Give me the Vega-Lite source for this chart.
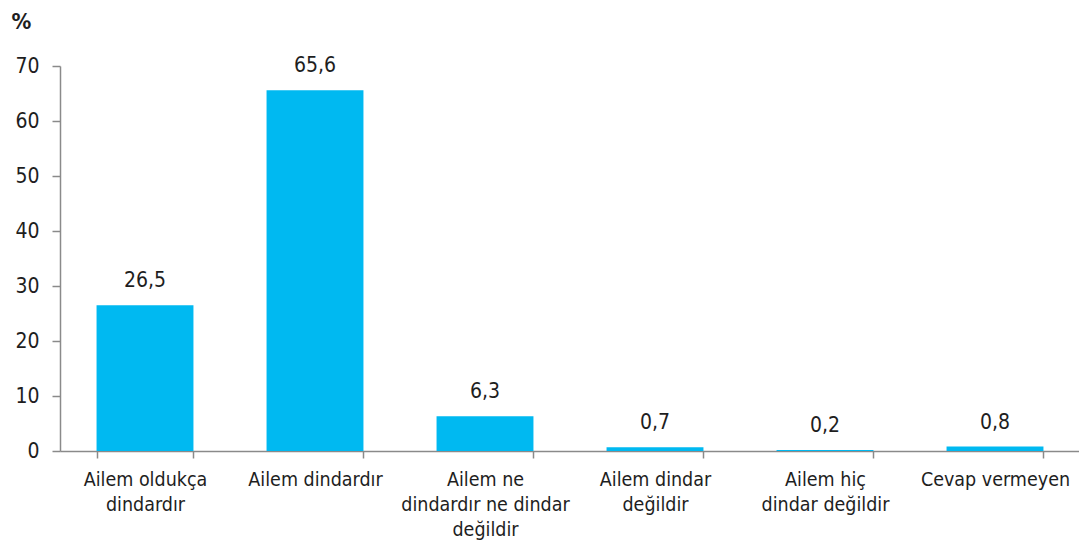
{
  "$schema": "https://vega.github.io/schema/vega-lite/v6.json",
  "autosize": "none",
  "width": 1020,
  "height": 385,
  "padding": {"left": 60, "top": 66, "right": 0, "bottom": 92},
  "background": "white",
  "config": {
    "locale": {"number": {"decimal": ",", "thousands": ".", "grouping": [3], "currency": ["", " TL"]}},
    "view": {"stroke": null},
    "font": "DejaVu Sans Condensed"
  },
  "data": {
    "values": [
      {"kategori": "Ailem oldukça\ndindardır", "oran": 26.5},
      {"kategori": "Ailem dindardır", "oran": 65.6},
      {"kategori": "Ailem ne\ndindardır ne dindar\ndeğildir", "oran": 6.3},
      {"kategori": "Ailem dindar\ndeğildir", "oran": 0.7},
      {"kategori": "Ailem hiç\ndindar değildir", "oran": 0.2},
      {"kategori": "Cevap vermeyen", "oran": 0.8}
    ]
  },
  "encoding": {
    "x": {
      "field": "kategori",
      "type": "nominal",
      "sort": null,
      "scale": {"paddingInner": 0.43, "paddingOuter": 0.215},
      "axis": {
        "title": null,
        "labelAngle": 0,
        "labelExpr": "split(datum.label, '\\n')",
        "labelFont": "DejaVu Sans Condensed",
        "labelFontSize": 19.5,
        "labelColor": "#1e1e1e",
        "labelLineHeight": 25,
        "labelPadding": 12,
        "labelBaseline": "top",
        "tickBand": "extent",
        "tickSize": 7,
        "tickColor": "#8a8a8a",
        "domainColor": "#8a8a8a",
        "domainWidth": 1.5,
        "tickWidth": 1.5
      }
    },
    "y": {
      "field": "oran",
      "type": "quantitative",
      "scale": {"domain": [0, 70], "nice": false},
      "axis": {
        "values": [0, 10, 20, 30, 40, 50, 60, 70],
        "grid": false,
        "title": "%",
        "titleAngle": 0,
        "titleAlign": "left",
        "titleBaseline": "top",
        "titleX": -49,
        "titleY": -55,
        "titleFont": "DejaVu Sans Condensed",
        "titleFontSize": 22,
        "titleFontWeight": "bold",
        "titleColor": "#1e1e1e",
        "labelFont": "DejaVu Sans Condensed",
        "labelFontSize": 21,
        "labelColor": "#1e1e1e",
        "labelPadding": 13,
        "tickSize": 8,
        "tickColor": "#8a8a8a",
        "domainColor": "#8a8a8a",
        "domainWidth": 1.5,
        "tickWidth": 1.5
      }
    }
  },
  "layer": [
    {"mark": {"type": "bar", "color": "#00B9F1"}},
    {
      "mark": {"type": "text", "baseline": "bottom", "dy": -14, "fontSize": 21, "color": "#1e1e1e", "font": "DejaVu Sans Condensed"},
      "encoding": {"text": {"field": "oran", "type": "quantitative", "format": ".1f"}}
    }
  ]
}
